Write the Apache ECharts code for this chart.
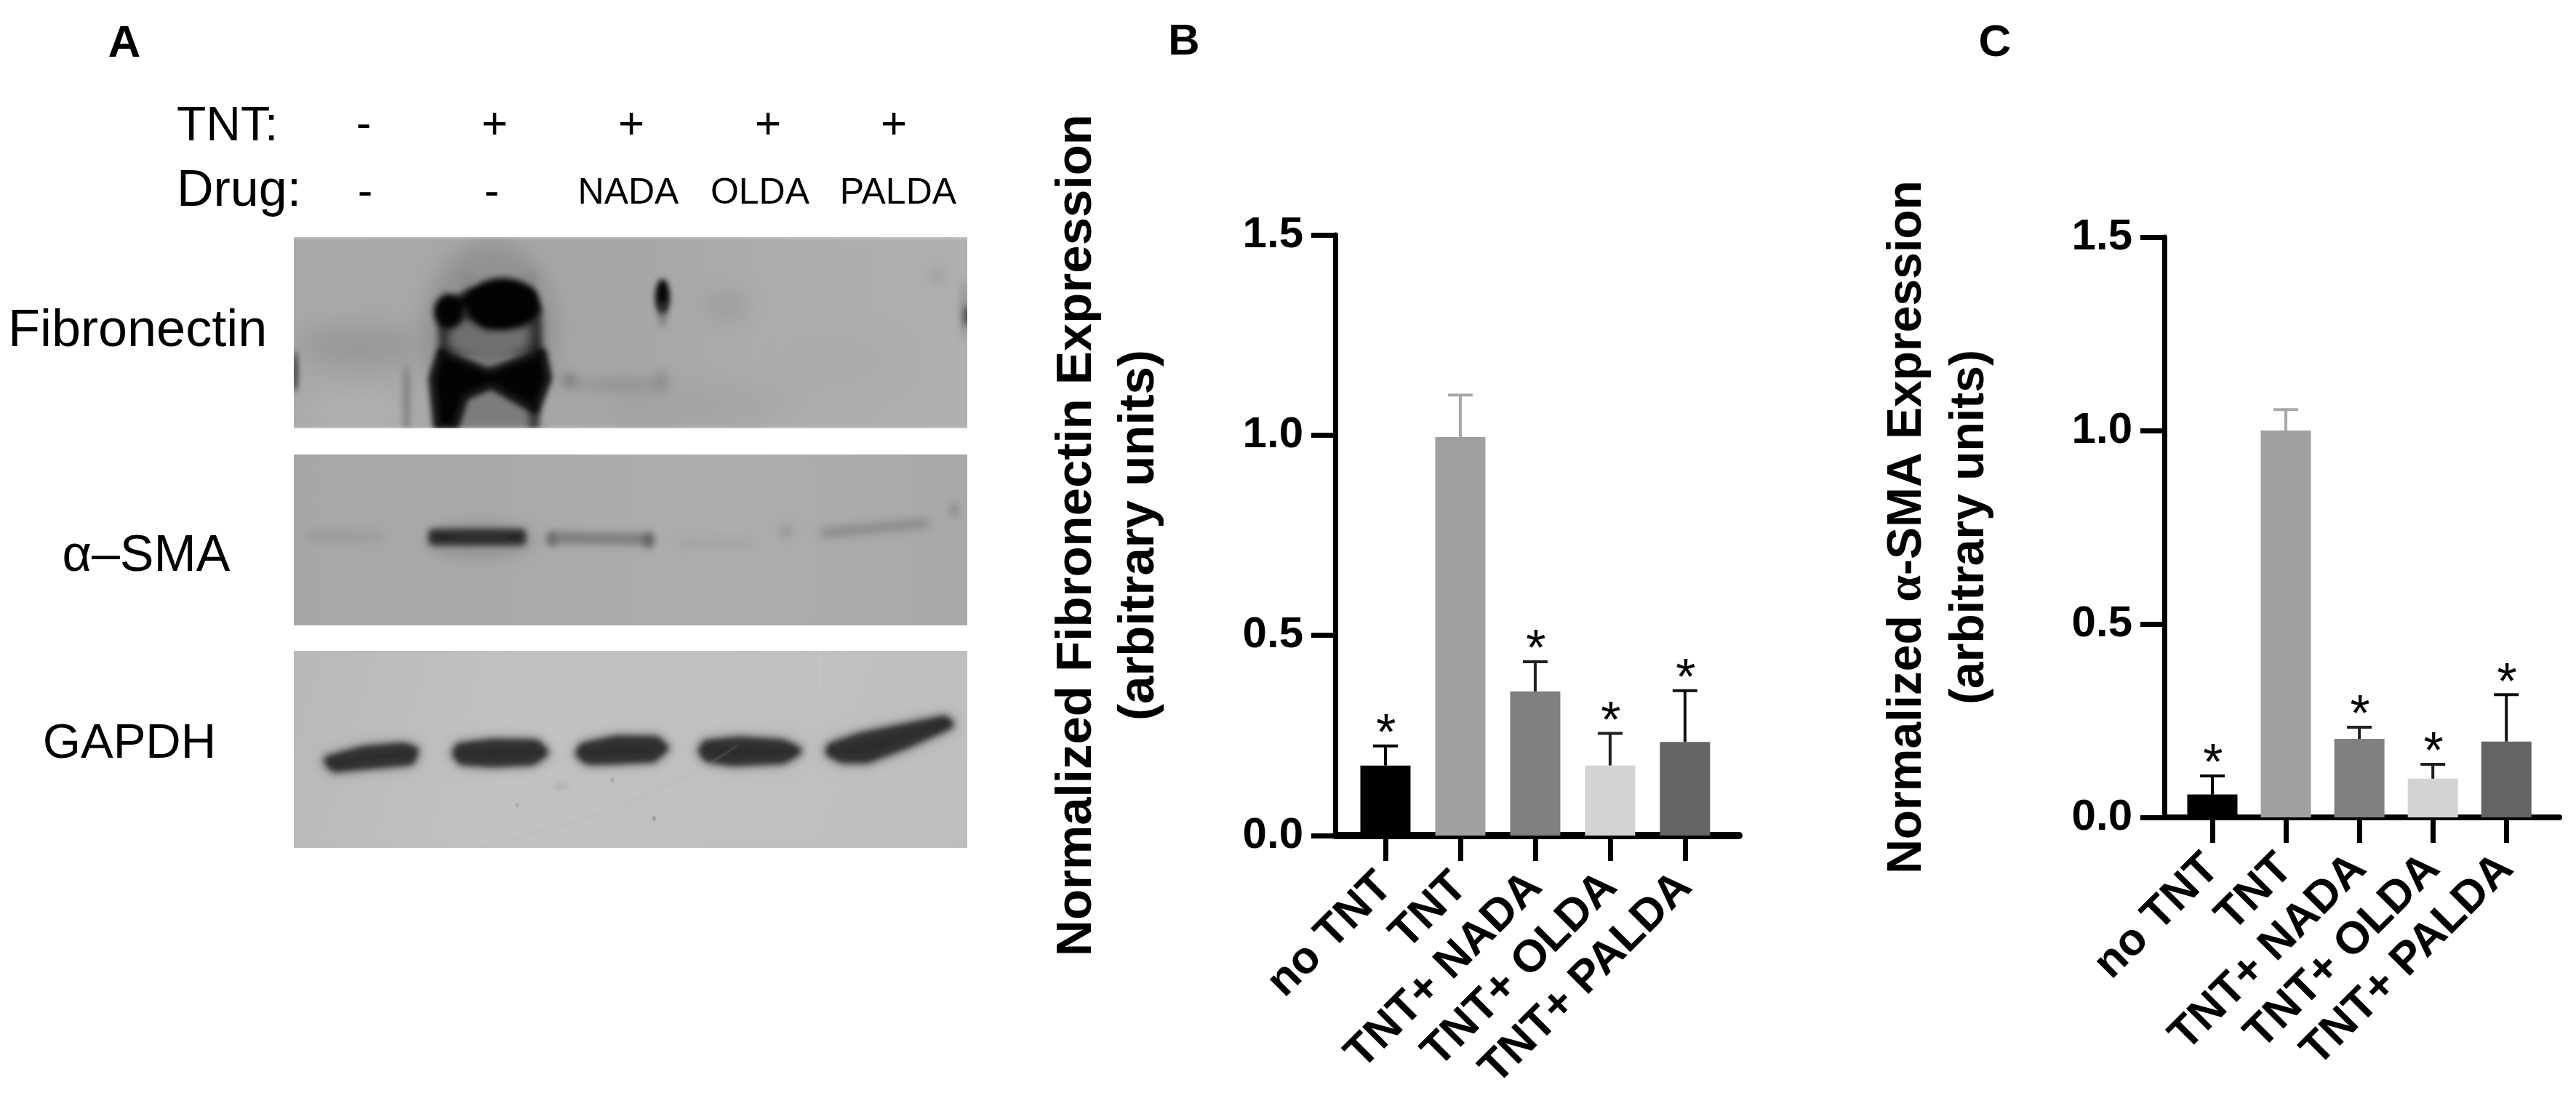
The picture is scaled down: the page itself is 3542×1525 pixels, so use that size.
<!DOCTYPE html>
<html><head><meta charset="utf-8">
<style>html,body{margin:0;padding:0;background:#fff}#c{width:3542px;height:1525px}</style>
<script src="https://cdn.jsdelivr.net/npm/echarts@6/dist/echarts.min.js"></script>
</head><body><div id="c"></div>
<script>
const categories = ['no TNT', 'TNT', 'TNT+ NADA', 'TNT+ OLDA', 'TNT+ PALDA'];
const fibronectinMean = [0.175, 0.995, 0.36, 0.175, 0.234];
const fibronectinUpper = [0.224, 1.10, 0.434, 0.255, 0.362];
const smaMean = [0.059, 1.0, 0.203, 0.10, 0.196];
const smaUpper = [0.107, 1.054, 0.233, 0.137, 0.317];
const barColors = ['#000000', '#a0a0a2', '#808080', '#d3d3d3', '#646464'];
const errColors = ['#000000', '#a8a8aa', '#202020', '#202020', '#101010'];
const tntRow = ['-', '+', '+', '+', '+'];
const drugRow = ['-', '-', 'NADA', 'OLDA', 'PALDA'];

const SANS = '"Liberation Sans", Arial, sans-serif';

// ---------- western blot panels (picture-like decoration) ----------
function blotCanvas(w, h, paint) {
  const cv = document.createElement('canvas');
  cv.width = w; cv.height = h;
  const ctx = cv.getContext('2d');
  paint(ctx, w, h);
  const copy = document.createElement('canvas');
  copy.width = w; copy.height = h;
  copy.getContext('2d').drawImage(cv, 0, 0);
  ctx.save(); ctx.filter = 'blur(1.6px)'; ctx.drawImage(copy, 0, 0); ctx.restore();
  return cv;
}
function blob(ctx, pts, color, blur, round) {
  ctx.save(); ctx.filter = 'blur(' + blur + 'px)'; ctx.fillStyle = color; ctx.strokeStyle = color;
  ctx.beginPath(); pts.forEach((p, i) => i ? ctx.lineTo(p[0], p[1]) : ctx.moveTo(p[0], p[1]));
  ctx.closePath();
  if (round) { ctx.lineJoin = 'round'; ctx.lineWidth = round; ctx.stroke(); }
  ctx.fill(); ctx.restore();
}
function oval(ctx, x, y, rx, ry, color, blur, rot) {
  ctx.save(); ctx.filter = 'blur(' + blur + 'px)'; ctx.fillStyle = color;
  ctx.beginPath(); ctx.ellipse(x, y, rx, ry, rot || 0, 0, Math.PI * 2); ctx.fill(); ctx.restore();
}
const panelFn = { x: 404, y: 326, w: 926, h: 263 };
const panelSma = { x: 404, y: 625, w: 926, h: 235 };
const panelGapdh = { x: 404, y: 895, w: 926, h: 271 };

const fnCanvas = blotCanvas(panelFn.w, panelFn.h, (ctx, w, h) => {
  const g = ctx.createLinearGradient(0, 0, w, 0);
  g.addColorStop(0, '#a9a9a9'); g.addColorStop(0.2, '#a8a8a8'); g.addColorStop(0.5, '#a6a6a6'); g.addColorStop(0.7, '#acacac'); g.addColorStop(1, '#b0b0b0');
  ctx.fillStyle = g; ctx.fillRect(0, 0, w, h);
  const z = p => [400 + p[0] / 2.613 - 404, 320 + p[1] / 3 - 326];
  oval(ctx, 90, 150, 90, 28, 'rgba(120,120,120,.35)', 18);
  oval(ctx, 90, 240, 80, 30, 'rgba(190,190,190,.35)', 16);
  oval(ctx, 2, 185, 4, 28, '#444', 3);
  oval(ctx, 155, 225, 5, 50, 'rgba(100,100,100,.6)', 4);
  oval(ctx, 560, 230, 120, 30, 'rgba(150,150,150,.25)', 14);
  oval(ctx, 760, 170, 90, 40, 'rgba(165,165,165,.3)', 16);
  // smear round the overloaded lane
  oval(ctx, 270, 130, 92, 125, 'rgba(130,130,130,.55)', 14);
  oval(ctx, 240, 60, 9, 14, 'rgba(130,130,130,.6)', 6);
  oval(ctx, 325, 58, 9, 14, 'rgba(130,130,130,.6)', 6);
  // overloaded lane
  blob(ctx, [[527, 320], [532, 500], [905, 500], [900, 310]].map(z), '#2e2e2e', 5);
  blob(ctx, [[620, 640], [720, 625], [885, 725], [885, 810], [590, 810]].map(z), '#7c7c7c', 6);
  blob(ctx, [[855, 720], [892, 720], [892, 810], [855, 810]].map(z), '#3c3c3c', 4);
  blob(ctx, [[537, 490], [710, 568], [905, 490], [925, 600], [880, 735], [720, 630], [625, 675], [590, 805], [525, 805], [508, 600]].map(z), '#030303', 4, 8);
  blob(ctx, [[570, 385], [625, 358], [710, 400], [800, 368], [860, 390], [850, 470], [715, 545], [570, 470]].map(z), '#707070', 6, 2);
  oval(ctx, 287, 92, 50, 36, '#030303', 4);
  oval(ctx, 213, 102, 20, 24, '#040404', 4);
  blob(ctx, [[535, 320], [640, 310], [705, 378], [800, 335], [890, 320], [865, 240], [640, 240]].map(z), '#030303', 4, 4);
  // NADA lane
  oval(ctx, 507, 82, 10, 24, '#060606', 3.5);
  oval(ctx, 507, 105, 6, 18, 'rgba(90,90,90,.55)', 4);
  oval(ctx, 378, 197, 11, 11, 'rgba(100,100,100,.55)', 7);
  oval(ctx, 445, 203, 64, 9, 'rgba(125,125,125,.45)', 8);
  oval(ctx, 505, 198, 10, 16, 'rgba(120,120,120,.4)', 6);
  // faint marks on the right
  oval(ctx, 596, 95, 30, 22, 'rgba(150,150,150,.5)', 12);
  oval(ctx, 885, 52, 10, 12, 'rgba(150,150,150,.6)', 8);
  oval(ctx, 925, 108, 5, 15, '#333', 3.5);
  oval(ctx, 922, 100, 7, 40, 'rgba(130,130,130,.5)', 5);
  ctx.fillStyle = 'rgba(255,255,255,.3)'; ctx.fillRect(0, 0, w, 2); ctx.fillRect(0, h - 2, w, 2);
});

const smaCanvas = blotCanvas(panelSma.w, panelSma.h, (ctx, w, h) => {
  const g = ctx.createLinearGradient(0, 0, w, 0);
  g.addColorStop(0, '#a7a7a7'); g.addColorStop(0.3, '#a9a9a9'); g.addColorStop(0.65, '#adadad'); g.addColorStop(1, '#a8a8a8');
  ctx.fillStyle = g; ctx.fillRect(0, 0, w, h);
  const z = p => [p[0] / 1.12 - 404, p[1] / 2.613 + 600 - 625];
  blob(ctx, [[472, 345], [590, 350], [590, 370], [472, 370]].map(z), 'rgba(125,125,125,.5)', 7);
  oval(ctx, 255, 118, 75, 26, 'rgba(130,130,130,.5)', 9);
  blob(ctx, [[665, 344], [805, 344], [805, 380], [665, 380]].map(z), '#1c1c1c', 5, 6);
  blob(ctx, [[700, 356], [780, 356], [780, 366], [700, 366]].map(z), 'rgba(70,70,70,.7)', 3);
  blob(ctx, [[858, 354], [1000, 360], [1000, 380], [858, 376]].map(z), 'rgba(105,105,105,.8)', 6, 4);
  oval(ctx, 355, 116, 8, 11, 'rgba(85,85,85,.7)', 4);
  oval(ctx, 488, 118, 8, 11, 'rgba(85,85,85,.7)', 4);
  blob(ctx, [[1045, 374], [1160, 376], [1160, 390], [1045, 390]].map(z), 'rgba(135,135,135,.5)', 7);
  oval(ctx, 677, 105, 9, 10, 'rgba(135,135,135,.5)', 6);
  blob(ctx, [[1268, 338], [1425, 305], [1430, 318], [1268, 358]].map(z), 'rgba(120,120,120,.7)', 6, 3);
  oval(ctx, 908, 76, 6, 9, 'rgba(125,125,125,.7)', 5);
});

const gapdhCanvas = blotCanvas(panelGapdh.w, panelGapdh.h, (ctx, w, h) => {
  const g = ctx.createLinearGradient(0, 0, w, h);
  g.addColorStop(0, '#b8b8b8'); g.addColorStop(0.35, '#c2c2c2'); g.addColorStop(1, '#bebebe');
  ctx.fillStyle = g; ctx.fillRect(0, 0, w, h);
  const z = p => [p[0] / 1.12 - 404, p[1] / 2.613 + 600 - 895];
  ctx.fillStyle = 'rgba(255,255,255,.12)'; ctx.fillRect(722, 0, 4, 50);
  const dark = '#2c2c2c';
  const bands = [
    [[505, 1165], [560, 1130], [620, 1118], [638, 1130], [632, 1165], [560, 1180], [515, 1190]],
    [[708, 1118], [760, 1104], [825, 1106], [838, 1135], [820, 1165], [760, 1172], [712, 1165], [703, 1140]],
    [[898, 1118], [950, 1092], [1010, 1094], [1023, 1120], [1005, 1155], [930, 1163], [905, 1163], [893, 1140]],
    [[1088, 1108], [1140, 1096], [1205, 1106], [1228, 1130], [1205, 1160], [1130, 1168], [1090, 1155], [1082, 1130]],
    [[1280, 1118], [1325, 1082], [1455, 1020], [1462, 1035], [1395, 1105], [1335, 1158], [1298, 1158], [1278, 1135]]
  ];
  bands.forEach(b => blob(ctx, b.map(z), 'rgba(90,90,90,.55)', 8, 16));
  bands.forEach(b => blob(ctx, b.map(z), dark, 4, 11));
  oval(ctx, 367, 186, 10, 4, 'rgba(145,145,145,.4)', 3);
  ctx.fillStyle = '#777';
  ctx.fillRect(494, 228, 3, 5); ctx.fillRect(306, 210, 2, 4); ctx.fillRect(437, 175, 2, 5);
  ctx.strokeStyle = 'rgba(175,175,175,.3)'; ctx.lineWidth = 2;
  ctx.beginPath(); ctx.moveTo(260, 268); ctx.quadraticCurveTo(480, 220, 610, 130); ctx.stroke();
});

function text(t, x, y, size, opts) {
  opts = opts || {};
  return { type: 'text', x: x, y: y, z: 20, style: {
    text: t, fill: '#000', font: (opts.bold ? 'bold ' : '') + size + 'px ' + SANS,
    textAlign: opts.align || 'center', textVerticalAlign: 'middle' } };
}
function panelImage(p, cv) {
  return { type: 'image', x: p.x, y: p.y, z: 5, style: { image: cv, width: p.w, height: p.h } };
}
const tntX = [500, 680, 868, 1056, 1229];
const drugX = [502, 676, 864, 1045, 1235];
const graphics = [
  panelImage(panelFn, fnCanvas), panelImage(panelSma, smaCanvas), panelImage(panelGapdh, gapdhCanvas),
  text('A', 171, 61, 62, { bold: true }), text('B', 1628, 58, 60, { bold: true }), text('C', 2743, 60, 62, { bold: true }),
  text('TNT:', 243, 175, 66, { align: 'left' }), text('Drug:', 243, 264, 70, { align: 'left' }),
  text('Fibronectin', 11, 456, 72, { align: 'left' }),
  text('α–SMA', 201, 766, 70), text('GAPDH', 178, 1024, 67)
];
tntRow.forEach((t, i) => graphics.push(text(t, tntX[i], 173, 62)));
drugRow.forEach((t, i) => graphics.push(text(t, drugX[i], 266, t.length > 1 ? 50 : 62)));

// ---------- bar panels ----------
function makeGrid(left, right, top, bottom) {
  return { left: left, top: top, width: right - left, height: bottom - top, containLabel: false };
}
function makeX(grid, lo, hi, lw) {
  return { type: 'value', gridIndex: grid, min: lo, max: hi, splitLine: { show: false },
    axisLine: { show: true, onZero: false, lineStyle: { color: '#000', width: lw } },
    axisTick: { show: true, customValues: [0, 1, 2, 3, 4], length: 35, lineStyle: { color: '#000', width: 7 } },
    axisLabel: { show: true, customValues: [0, 1, 2, 3, 4], rotate: 45, margin: 61, color: '#000',
      fontFamily: SANS, fontWeight: 'bold', fontSize: 62, formatter: v => categories[v] } };
}
function makeY(grid, name, gap, size, rich) {
  return { type: 'value', gridIndex: grid, min: 0, max: 1.5, interval: 0.5, splitLine: { show: false },
    axisLine: { show: true, onZero: false, lineStyle: { color: '#000', width: 7 } },
    axisTick: { show: true, length: 33, lineStyle: { color: '#000', width: 7 } },
    axisLabel: { margin: 44, color: '#000', fontFamily: SANS, fontWeight: 'bold', fontSize: 60,
      formatter: v => v.toFixed(1) },
    name: name, nameLocation: 'middle', nameRotate: 90, nameGap: gap,
    nameTextStyle: { color: '#000', fontFamily: SANS, fontWeight: 'bold', fontSize: size, lineHeight: 86, rich: rich } };
}
function barSeries(grid, means) {
  return { type: 'bar', xAxisIndex: grid, yAxisIndex: grid, barWidth: 69, z: 2,
    data: means.map((m, i) => ({ value: [i, m], itemStyle: { color: barColors[i] } })) };
}
function errSeries(grid, upper, means) {
  return { type: 'custom', xAxisIndex: grid, yAxisIndex: grid, z: 3, clip: false,
    data: upper.map((u, i) => [i, u, means[i]]),
    renderItem: (params, api) => {
      const i = api.value(0);
      const top = api.coord([i, api.value(1)]);
      const base = api.coord([i, api.value(2)]);
      const st = { stroke: errColors[i], lineWidth: 4, fill: null };
      const kids = [
        { type: 'line', shape: { x1: top[0], y1: top[1], x2: base[0], y2: base[1] }, style: st },
        { type: 'line', shape: { x1: top[0] - 17, y1: top[1], x2: top[0] + 17, y2: top[1] }, style: st }
      ];
      if (i !== 1) kids.push({ type: 'text', x: top[0] + 1, y: top[1] - 14, style: {
        text: '*', fill: '#000', font: '70px ' + SANS, textAlign: 'center', textVerticalAlign: 'middle' } });
      return { type: 'group', children: kids };
    } };
}
const chart = echarts.init(document.getElementById('c'), null, { renderer: 'canvas', width: 3542, height: 1525 });
chart.setOption({
  backgroundColor: '#fff', animation: false,
  graphic: graphics,
  grid: [makeGrid(1836, 2391, 323, 1149), makeGrid(2976, 3519, 326, 1124)],
  xAxis: [makeX(0, -0.67, 4.72, 10), makeX(1, -0.653, 4.72, 8)],
  yAxis: [
    makeY(0, 'Normalized Fibronectin Expression\n(arbitrary units)', 226, 69),
    makeY(1, 'Normalized {a|α}-SMA Expression\n(arbitrary units)', 224, 66,
      { a: { fontFamily: '"Liberation Serif", serif', fontSize: 66, lineHeight: 86, color: '#000' } })
  ],
  series: [
    barSeries(0, fibronectinMean), errSeries(0, fibronectinUpper, fibronectinMean),
    barSeries(1, smaMean), errSeries(1, smaUpper, smaMean)
  ]
});
</script></body></html>
